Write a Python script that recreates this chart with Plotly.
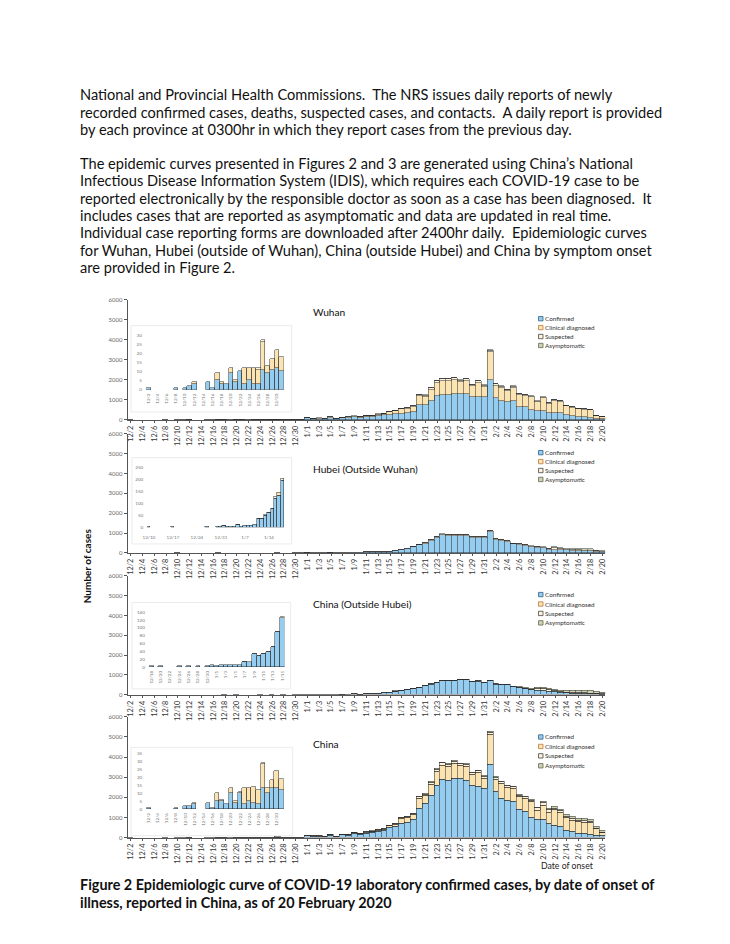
import datetime as dt
import plotly.graph_objects as go

# The page body has a default 8px margin, so the figure is drawn 8px in and
# the pixel helpers below convert reference-page pixels to paper coordinates.
OFF = 8
W, H = 730 - 2 * OFF, 944 - 2 * OFF
def X(px): return (px - OFF) / W
def Y(py): return 1 - (py - OFF) / H

# ---------------- categories ----------------
start = dt.date(2019, 12, 2)
dates = []
for i in range(81):
    d = start + dt.timedelta(days=i)
    dates.append(f"{d.month}/{d.day}")

# ---------------- data (cases by onset date, 12/2 .. 2/20) ----------------
wuhan_confirmed = [1,0,0,0,0,0,1,0,1,2, 3,0,0,4,1,5,3,3,9,4, 10,3,5,3,3,11,9,11,12,10,
    85,50,60,40,100,50,90,100,140,125, 150,160,198,230,247,280,313,346,396,742,
    775,973,1221,1254,1270,1303,1303,1303,1138,1171, 1138,2013,1105,973,891,973,643,643,495,445,
    478,379,379,379,231,198,165,148,115,66, 66]
wuhan_clinical = [0,0,0,0,0,0,0,0,0,0, 1,0,0,0,0,4,1,0,3,1, 0,9,7,9,8,15,4,6,10,8,
    25,13,18,8,25,13,19,25,31,30, 36,42,64,65,141,168,229,228,254,456,
    395,542,644,710,694,722,595,661,541,701, 508,1370,605,629,551,634,596,563,634,443,
    608,432,597,547,455,405,378,362,378,117, 68]
wuhan_suspected = [0,0,0,0,0,0,0,0,0,0, 0,0,0,0,0,0,0,0,0,0, 0,0,0,0,1,1,0,0,0,0,
    5,3,4,2,6,3,5,6,8,8,10,10,15,15,20,25,
    30,30,35,60,55,70,80,80,80,85,80,80,70,75,70,
    90,
    70,65,60,60,50,50,45,40,40,35,35,35,30,30,25,25,25,10,10]
wuhan_asymptomatic = [0]*30 + [
    0,0,0,0,1,0,1,1,2,2,2,2,3,3,4,5,
    6,6,8,12,12,15,18,18,18,18,18,18,16,16,16,
    25,
    18,16,16,16,14,14,14,12,12,12,12,12,10,10,10,10,10,5,5]

hubei_confirmed = [0,0,0,0,0,0,0,0,3,0, 0,0,0,0,0,3,0,0,0,0, 0,0,0,0,0,2,0,0,2,3,
    7,5,3,4,10,4,6,8,9,12, 38,35,50,62,78,120,134,196,
    290,400,480,610,770,900,870,870,870,870, 775,775,775,1060,680,615,565,450,415,380,
    310,270,235,180,180,165,150,120,110,100, 95,70,50]
hubei_clinical = [0]*46 + [12] + [0]*34
hubei_suspected = [0]*30 + [1,0,0,0,2,0,0,0,0,0, 1,1,2,2,2,10,0,8,
    20,25,27,30,35,35,35,35,35,35, 30,30,30,40,25,25,25,20,20,20,
    20,20,20,15,70,40,30,25,25,25, 30,15,10]
hubei_asymptomatic = [0]*48 + [7,8,10,10,12,15,12,12,12,12, 12,12,12,17,12,10,10,13,15,17,
    20,27,28,22,33,28,37,38,48,58, 58,32,23]

outside_confirmed = [0]*16 + [2,0,2,0,0,0,2,0,2,0, 2,0,2,5,2,4,6,6,4,4, 12,13,32,27,33,38,50,88,125,
    175,208,256,288,352,449,529,609,690,706, 706,755,739,640,672,605,687,522,503,485, 401,349,297,
    250,217,200,167,133,100,83,67,60,50, 45,40,30]
outside_clinical = [0]*81
outside_suspected = [0]*16 + [0,0,0,0,0,0,0,0,0,0, 0,0,0,0,0,0,0,0,0,0, 1,0,1,1,1,1,1,2,2,
    6,7,8,9,11,14,16,18,20,20, 20,20,20,18,18,18,20,16,18,18, 18,18,18,
    30,80,120,80,50,50,40,40,35,35, 35,30,20]
outside_asymptomatic = [0]*45 + [2,2,3,3,4,4,5,6,7,7, 7,8,8,9,10,10,10,12,12,14, 14,16,18,
    20,36,47,53,50,67,77,93,88,98, 103,97,50]

china_confirmed = [1,0,0,0,0,0,1,0,2,2, 3,0,0,4,1,5,5,3,10,4, 10,3,5,4,3,13,10,13,13,12,
    95,70,72,48,115,58,130,120,210,170, 220,250,280,330,492,540,705,771,918,1443,
    1673,2099,2591,2870,2821,2952,2919,2837,2591,2526, 2427,3605,2296,1935,1837,1771,1394,1312,984,902,
    902,689,623,574,361,295,213,197,164,82, 82]
china_clinical = [0,0,0,0,0,0,0,0,0,0, 1,0,0,0,0,5,1,0,3,1, 1,10,8,10,9,15,3,5,11,7,
    20,11,14,9,28,13,27,23,40,32, 45,64,93,92,102,130,231,231,241,509,
    399,539,684,717,700,712,635,684,519,694, 519,1498,603,731,632,654,633,638,787,447,
    697,563,752,660,627,568,578,568,563,352, 156]
china_suspected = [0]*25 + [1] + [0]*4 + [
    5,4,4,3,6,4,6,6,10,9,12,12,18,18,25,30,
    40,40,45,80,75,95,110,110,110,115,110,110,95,100,95,120,
    100,90,90,85,75,70,80,120,160,120,90,90,75,70,65,65,65,40,35]
china_asymptomatic = [0]*30 + [
    0,0,0,0,1,0,1,1,2,2,2,2,3,3,4,5,
    8,8,10,18,18,22,26,26,26,26,26,26,26,26,26,37,
    35,32,32,32,30,30,35,40,45,55,60,70,85,100,95,105,110,100,55]

series_names = ["Confirmed", "Clinical diagnosed", "Suspected", "Asymptomatic"]
panel_titles = ["Wuhan", "Hubei (Outside Wuhan)", "China (Outside Hubei)", "China"]
main_ticks = [0, 1000, 2000, 3000, 4000, 5000, 6000]

inset_slices = [(0, 30), (8, 48), (16, 45), (0, 30)]
inset_ymax = [30, 250, 140, 35]
inset_ystep = [5, 50, 20, 5]
inset2_ticks = ["12/10", "12/17", "12/24", "12/31", "1/7", "1/14"]

# ---------------- styling ----------------
fills = ["#94cdf0", "#fce3b2", "#fff4da", "#cfd3b3"]
edges = ["#2f5f86", "#b97a3a", "#444444", "#5d6b4f"]
bar_line = "#2a2a2a"
FONT = "Lato"

panels = [
    (wuhan_confirmed, wuhan_clinical, wuhan_suspected, wuhan_asymptomatic),
    (hubei_confirmed, hubei_clinical, hubei_suspected, hubei_asymptomatic),
    (outside_confirmed, outside_clinical, outside_suspected, outside_asymptomatic),
    (china_confirmed, china_clinical, china_suspected, china_asymptomatic),
]

def nz(seq):
    # zero-height bars are left out so they draw no outline
    return [v if v else None for v in seq]

# pixel geometry on the reference page: (zero line, 6000 line)
main_y = [(419, 298), (553, 433), (696, 576), (840, 718)]
main_x = (123.7, 605.3)
# insets: (x0, x1, y_zero, y_top, box)
inset_geo = [
    (142.0, 281.0, 388.7, 333.7, (127, 324, 289, 411)),
    (143.3, 281.7, 527.3, 467.0, (128, 457, 289, 544)),
    (145.0, 281.7, 668.0, 612.7, (128, 603, 288, 690)),
    (142.3, 281.0, 811.3, 754.7, (127, 749, 290, 838)),
]
legend_y = [(317, 326, 335, 344), (452, 461, 470, 479), (595, 604.5, 614, 623.5), (738.5, 748, 757.5, 767.5)]
title_y = [310, 468, 604, 746]

fig = go.Figure()
layout = {}
shapes = []
annotations = []

for p in range(4):
    ax = "" if p == 0 else str(p + 1)
    vals = panels[p]
    for s in range(4):
        fig.add_trace(go.Bar(
            x=dates, y=nz(vals[s]), name=series_names[s], xaxis="x" + ax, yaxis="y" + ax,
            marker=dict(color=fills[s], line=dict(color=bar_line, width=0.5)),
            showlegend=False, hoverinfo="skip"))
    y0, y1 = main_y[p]
    layout["xaxis" + ax] = dict(
        domain=[X(main_x[0]), X(main_x[1])], anchor="y" + ax, type="category",
        categoryorder="array", categoryarray=dates, range=[-0.5, 80.5],
        tickmode="array", tickvals=dates[::2], ticktext=dates[::2], tickangle=-90,
        tickfont=dict(family=FONT, size=7.3, color="#333"), showline=True, linecolor="#555",
        linewidth=1, ticks="outside", ticklen=2, tickcolor="#555", showgrid=False, zeroline=False)
    layout["yaxis" + ax] = dict(
        domain=[Y(y0), Y(y1)], anchor="x" + ax, range=[0, 6000], tickmode="array",
        tickvals=main_ticks, tickfont=dict(family=FONT, size=6, color="#666"),
        showline=True, linecolor="#555", linewidth=1, ticks="outside", ticklen=3,
        tickcolor="#555", showgrid=False, zeroline=False)
    # panel title
    annotations.append(dict(x=X(309), y=Y(title_y[p]), xref="paper", yref="paper",
        text=panel_titles[p], showarrow=False, xanchor="left", yanchor="middle",
        font=dict(family=FONT, size=10.2, color="#111")))
    # legend
    for s in range(4):
        ly = legend_y[p][s]
        shapes.append(dict(type="rect", xref="paper", yref="paper",
            x0=X(538), x1=X(542.5), y0=Y(ly + 2.2), y1=Y(ly - 2.2),
            fillcolor=fills[s], line=dict(color=edges[s], width=0.8)))
        annotations.append(dict(x=X(542.5), y=Y(ly), xref="paper", yref="paper",
            text=series_names[s], showarrow=False, xanchor="left", yanchor="middle",
            font=dict(family=FONT, size=6.3, color="#333")))

    # inset
    ia = str(p + 5)
    a, b = inset_slices[p]
    cats = dates[a:b]
    x0, x1, yz, yt, box = inset_geo[p]
    shapes.append(dict(type="rect", xref="paper", yref="paper", layer="below",
        x0=X(box[0]), x1=X(box[2]), y0=Y(box[3]), y1=Y(box[1]),
        fillcolor="white", line=dict(color="#e6e6e6", width=0.8)))
    for s in range(4):
        fig.add_trace(go.Bar(
            x=cats, y=nz(vals[s][a:b]), name=series_names[s], xaxis="x" + ia, yaxis="y" + ia,
            marker=dict(color=fills[s], line=dict(color=bar_line, width=0.5)),
            showlegend=False, hoverinfo="skip"))
    if p == 1:
        tv, ang, tl = inset2_ticks, 0, 5
    else:
        tv, ang, tl = cats[::2], -90, 1
    layout["xaxis" + ia] = dict(
        domain=[X(x0), X(x1)], anchor="y" + ia, type="category", categoryorder="array",
        categoryarray=cats, range=[-0.5, len(cats) - 0.5], tickmode="array", tickvals=tv,
        ticktext=tv, tickangle=ang, tickfont=dict(family=FONT, size=4.6, color="#777"),
        showline=False, ticks="outside", ticklen=tl, tickcolor="rgba(0,0,0,0)",
        showgrid=False, zeroline=False)
    layout["yaxis" + ia] = dict(
        domain=[Y(yz), Y(yt)], anchor="x" + ia, range=[0, inset_ymax[p]], tickmode="array",
        tickvals=list(range(0, inset_ymax[p] + 1, inset_ystep[p])),
        tickfont=dict(family=FONT, size=4.6, color="#777"), showline=False,
        ticks="outside", ticklen=2, tickcolor="rgba(0,0,0,0)", showgrid=False, zeroline=False)

# axis titles
annotations.append(dict(x=X(74), y=Y(566), xref="paper", yref="paper", text="<b>Number of cases</b>",
    textangle=-90, showarrow=False, font=dict(family=FONT, size=10, color="#111")))
annotations.append(dict(x=X(538), y=Y(868), xref="paper", yref="paper", text="Date of onset",
    showarrow=False, xanchor="left", yanchor="middle", font=dict(family=FONT, size=8.7, color="#222")))

# page text
NB = "\u00a0"
paragraph = [
    (91.5, f"National and Provincial Health Commissions.{NB} The NRS issues daily reports of newly"),
    (109, f"recorded confirmed cases, deaths, suspected cases, and contacts.{NB} A daily report is provided"),
    (126.5, "by each province at 0300hr in which they report cases from the previous day."),
    (160.5, "The epidemic curves presented in Figures 2 and 3 are generated using China’s National"),
    (178, "Infectious Disease Information System (IDIS), which requires each COVID-19 case to be"),
    (195.5, f"reported electronically by the responsible doctor as soon as a case has been diagnosed.{NB} It"),
    (213, "includes cases that are reported as asymptomatic and data are updated in real time."),
    (230.5, f"Individual case reporting forms are downloaded after 2400hr daily.{NB} Epidemiologic curves"),
    (248, "for Wuhan, Hubei (outside of Wuhan), China (outside Hubei) and China by symptom onset"),
    (265.5, "are provided in Figure 2."),
]
for py, t in paragraph:
    annotations.append(dict(x=X(74), y=Y(py), xref="paper", yref="paper", text=t, showarrow=False,
        xanchor="left", yanchor="middle", font=dict(family=FONT, size=14.6, color="#111")))
caption = [
    (887, "Figure 2 Epidemiologic curve of COVID-19 laboratory confirmed cases, by date of onset of"),
    (905, "illness, reported in China, as of 20 February 2020"),
]
for py, t in caption:
    annotations.append(dict(x=X(74), y=Y(py), xref="paper", yref="paper", text="<b>" + t + "</b>",
        showarrow=False, xanchor="left", yanchor="middle", font=dict(family=FONT, size=14.4, color="#111")))

fig.update_layout(width=W, height=H, margin=dict(l=0, r=0, t=0, b=0), paper_bgcolor="white",
    plot_bgcolor="rgba(0,0,0,0)", barmode="stack", bargap=0, showlegend=False,
    shapes=shapes, annotations=annotations, **layout)
fig.write_html("out.html")
